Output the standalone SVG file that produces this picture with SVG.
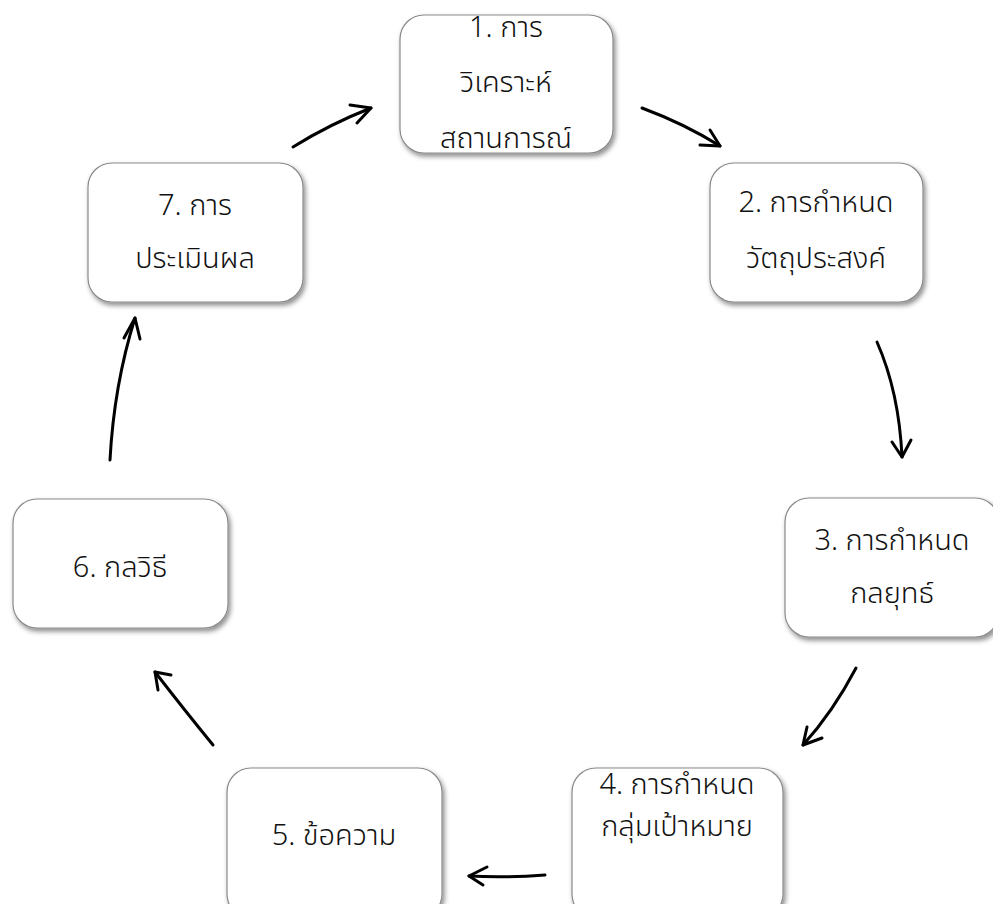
<svg xmlns="http://www.w3.org/2000/svg" width="993" height="904" viewBox="0 0 993 904">
  <defs>
    <filter id="shadow" x="-10%" y="-10%" width="125%" height="130%">
      <feDropShadow dx="2" dy="3" stdDeviation="2.5" flood-color="#000" flood-opacity="0.45"/>
    </filter>
    <style>
      .box { fill: #ffffff; stroke: #8a8a8a; stroke-width: 1.2; filter: url(#shadow); }
      .lbl { font-family: "Noto Sans Thai", "Noto Sans", "DejaVu Sans", sans-serif; font-size: 29px; font-weight: 300; fill: #111111; text-anchor: middle; }
      .arw { fill: none; stroke: #000; stroke-width: 3; stroke-linecap: round; stroke-linejoin: round; }
    </style>
  </defs>
  <rect width="993" height="904" fill="#ffffff"/>

  <g id="node1">
    <rect class="box" x="400" y="15" width="213" height="138" rx="24"/>
    <text class="lbl" x="506" y="37">1. การ</text>
    <text class="lbl" x="506" y="92">วิเคราะห์</text>
    <text class="lbl" x="506" y="148">สถานการณ์</text>
  </g>
  <g id="node2">
    <rect class="box" x="710" y="163" width="213" height="139" rx="24"/>
    <text class="lbl" x="816" y="212">2. การกำหนด</text>
    <text class="lbl" x="816" y="268">วัตถุประสงค์</text>
  </g>
  <g id="node3">
    <rect class="box" x="785" y="498" width="214" height="139" rx="24"/>
    <text class="lbl" x="892" y="550">3. การกำหนด</text>
    <text class="lbl" x="892" y="603">กลยุทธ์</text>
  </g>
  <g id="node4">
    <rect class="box" x="572" y="768" width="211" height="150" rx="24"/>
    <text class="lbl" x="677" y="794">4. การกำหนด</text>
    <text class="lbl" x="677" y="836">กลุ่มเป้าหมาย</text>
  </g>
  <g id="node5">
    <rect class="box" x="227" y="768" width="215" height="150" rx="24"/>
    <text class="lbl" x="334" y="845">5. ข้อความ</text>
  </g>
  <g id="node6">
    <rect class="box" x="13" y="499" width="215" height="129" rx="24"/>
    <text class="lbl" x="120" y="577">6. กลวิธี</text>
  </g>
  <g id="node7">
    <rect class="box" x="88" y="163" width="215" height="139" rx="24"/>
    <text class="lbl" x="195" y="215">7. การ</text>
    <text class="lbl" x="195" y="268">ประเมินผล</text>
  </g>

  <g id="connectors">
    <!-- 7 to 1 -->
    <path class="arw" d="M293,147 Q330,124 371,108"/>
    <path class="arw" d="M350,105 L371,108 L357,123"/>
    <!-- 1 to 2 -->
    <path class="arw" d="M642,108 Q685,124 720,146"/>
    <path class="arw" d="M710,130 L720,146 L700,145"/>
    <!-- 2 to 3 -->
    <path class="arw" d="M877,342 Q899,392 902,457"/>
    <path class="arw" d="M892,442 L902,457 L911,440"/>
    <!-- 3 to 4 -->
    <path class="arw" d="M856,668 Q833,712 803,745"/>
    <path class="arw" d="M807,727 L803,745 L822,738"/>
    <!-- 4 to 5 -->
    <path class="arw" d="M545,875 Q505,878 469,876"/>
    <path class="arw" d="M487,867 L469,876 L483,885"/>
    <!-- 5 to 6 -->
    <path class="arw" d="M213,745 Q186,712 155,672"/>
    <path class="arw" d="M171,675 L155,672 L158,690"/>
    <!-- 6 to 7 -->
    <path class="arw" d="M110,460 Q114,385 135,318"/>
    <path class="arw" d="M124,338 L135,318 L140,339"/>
  </g>
</svg>
